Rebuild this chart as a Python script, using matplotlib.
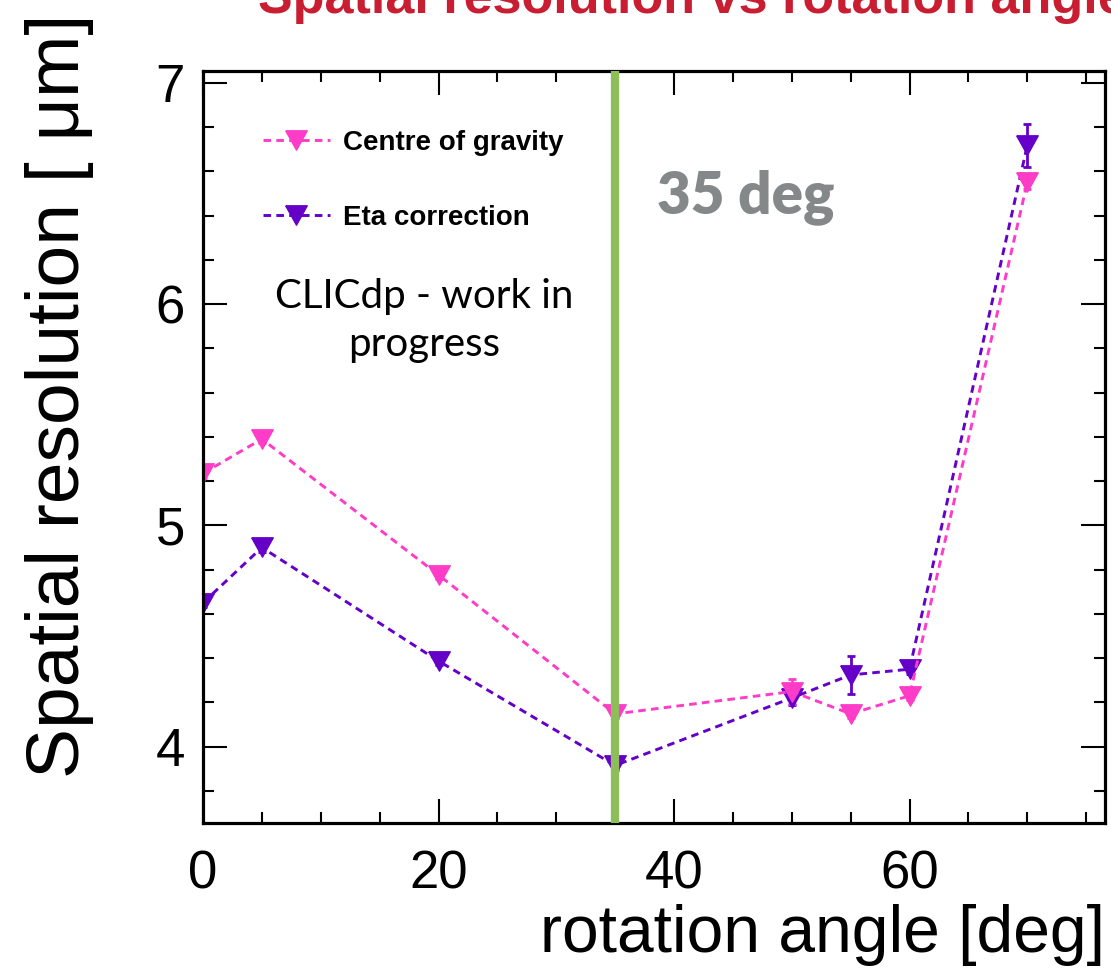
import numpy as np
import matplotlib.pyplot as plt
from matplotlib.lines import Line2D
from matplotlib.ticker import MultipleLocator

# resolution vs rotation angle, two reconstruction methods
angles = [0, 5, 20, 35, 50, 55, 60, 70]
res_cog = [5.235, 5.39, 4.776, 4.148, 4.249, 4.148, 4.23, 6.55]
err_cog = [0.02, 0.02, 0.02, 0.02, 0.055, 0.02, 0.02, 0.03]
res_eta = [4.65, 4.90, 4.387, 3.915, 4.22, 4.324, 4.35, 6.717]
err_eta = [0.02, 0.02, 0.02, 0.02, 0.03, 0.087, 0.02, 0.097]

x_ticks = [0, 20, 40, 60]
y_ticks = [4, 5, 6, 7]
cut_angle = 35

pink = '#FF3CC8'
purple = '#6400C8'
tri = [(-1, 0.9), (1, 0.9), (0, -0.9), (-1, 0.9)]
dash = (0, (2.6, 1.8))

W, H = 1111, 968
fig = plt.figure(figsize=(W/100, H/100), dpi=100)
ax = fig.add_axes([203/W, 1-823/H, 902/W, 752/H])

def px(x, y):
    # pixel position (from top-left) to figure fraction
    return x/W, 1 - y/H

def draw(y, err, col, label):
    ax.errorbar(angles, y, yerr=err, color=col, marker=tri, markersize=15.5,
                linestyle=dash, linewidth=2.1, elinewidth=2, capsize=3,
                capthick=2, label=label)

draw(res_eta, err_eta, purple, 'Eta correction')
draw(res_cog, err_cog, pink, 'Centre of gravity')

ax.axvline(cut_angle, color='#8DBE5A', linewidth=6, zorder=5)

ax.set_xlim(0, 76.6)
ax.set_ylim(3.655, 7.053)
ax.set_xticks(x_ticks)
ax.set_yticks(y_ticks)
ax.xaxis.set_minor_locator(MultipleLocator(5))
ax.yaxis.set_minor_locator(MultipleLocator(0.2))
ax.tick_params(which='both', direction='in', top=True, right=True, width=1.5)
ax.tick_params(which='major', length=17)
ax.tick_params(which='minor', length=8)
ax.tick_params(axis='x', which='major', pad=19)
ax.tick_params(axis='y', which='major', pad=13)
for lab in ax.get_xticklabels() + ax.get_yticklabels():
    lab.set_fontfamily('Liberation Sans')
    lab.set_fontsize(38)
for sp in ax.spines.values():
    sp.set_linewidth(2.3)

handles = [Line2D([], [], color=pink, marker=tri, markersize=15.5, linestyle=dash, linewidth=2.1),
           Line2D([], [], color=purple, marker=tri, markersize=15.5, linestyle=dash, linewidth=2.1)]
ax.legend(handles, ['Centre of gravity', 'Eta correction'], loc='upper left',
          bbox_to_anchor=(60/902, (823-130)/752), frameon=False, borderpad=0, borderaxespad=0,
          handlelength=2.4, handletextpad=0.47, labelspacing=1.75,
          prop={'family': 'Liberation Sans', 'weight': 'bold', 'size': 20})

fig.text(*px(657, 213), '35 deg', family='Lato', weight='heavy',
         fontsize=42, color='#858889', va='baseline')
fig.text(*px(424, 308), 'CLICdp - work in', family='Lato',
         fontsize=29, ha='center', va='baseline')
fig.text(*px(424, 356), 'progress', family='Lato',
         fontsize=29, ha='center', va='baseline')

fig.text(*px(258, 13), 'Spatial resolution vs rotation angle', family='Liberation Sans',
         weight='bold', fontsize=37.5, color='#C91D32', va='baseline')
fig.text(*px(1105, 952), 'rotation angle [deg]', family='Liberation Sans',
         fontsize=47.5, ha='right', va='baseline')
fig.text(*px(25, 14), 'Spatial resolution [ μm]', family='Liberation Sans',
         fontsize=54, rotation=90, ha='left', va='top')

fig.savefig('out.png', dpi=100)
